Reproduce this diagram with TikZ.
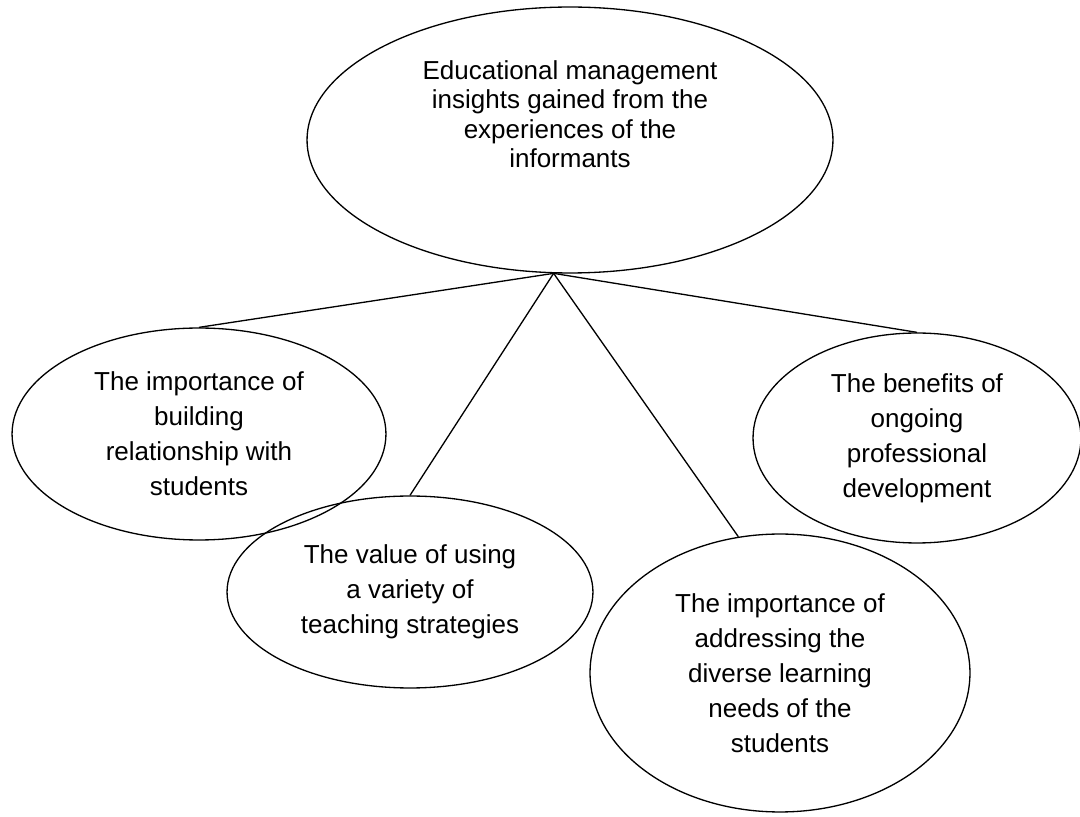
\documentclass[tikz,border=0pt]{standalone}
\usepackage{fontspec}
\setmainfont{Liberation Sans}
\usetikzlibrary{shapes.geometric,positioning}

\begin{document}
\begin{tikzpicture}[x=0.02cm,y=-0.02cm,font=\fontsize{14.8pt}{19.9pt}\selectfont]
\tikzset{
    %Define style for ellipses
    oval/.style={
           ellipse,
           draw=black, line width=0.75pt,
           inner sep=0pt,
           align=center,
           },
    %Define style for the text of the main ellipse
    ovaltekst/.style={
           align=center,
           inner sep=0pt,
           font=\fontsize{14.8pt}{16.8pt}\selectfont,
           },
    % Define branch style
    gren/.style={
           draw=black,
           line width=0.75pt,},
}
	\useasboundingbox (0,0) rectangle (1080,817);
 %nodes

	\node[oval,minimum width=10.52cm,minimum height=5.32cm] (insights) at (570,140) {};
	\node[ovaltekst] (insightstext) at (570,114) {Educational management\\insights gained from the\\experiences of the\\informants};

	\node[oval,minimum width=7.48cm,minimum height=4.24cm] (relation) at (199,434) {The importance of\\building\\relationship with\\students};

	\node[oval,minimum width=7.32cm,minimum height=3.84cm] (strategies) at (410,592) {The value of using\\a variety of\\teaching strategies};

	\node[oval,minimum width=7.6cm,minimum height=5.56cm] (needs) at (780,673) {The importance of\\addressing the\\diverse learning\\needs of the\\students};

	\node[oval,minimum width=6.56cm,minimum height=4.2cm] (benefits) at (917,438) {The benefits of\\ongoing\\professional\\development};

	\path (insights.263.6) edge[gren] (relation.north);
	\path (insights.263.6) edge[gren] (strategies.north);
	\path (insights.263.6) edge[gren] (needs.107);
	\path (insights.263.6) edge[gren] (benefits.north);

\end{tikzpicture}
\end{document}
